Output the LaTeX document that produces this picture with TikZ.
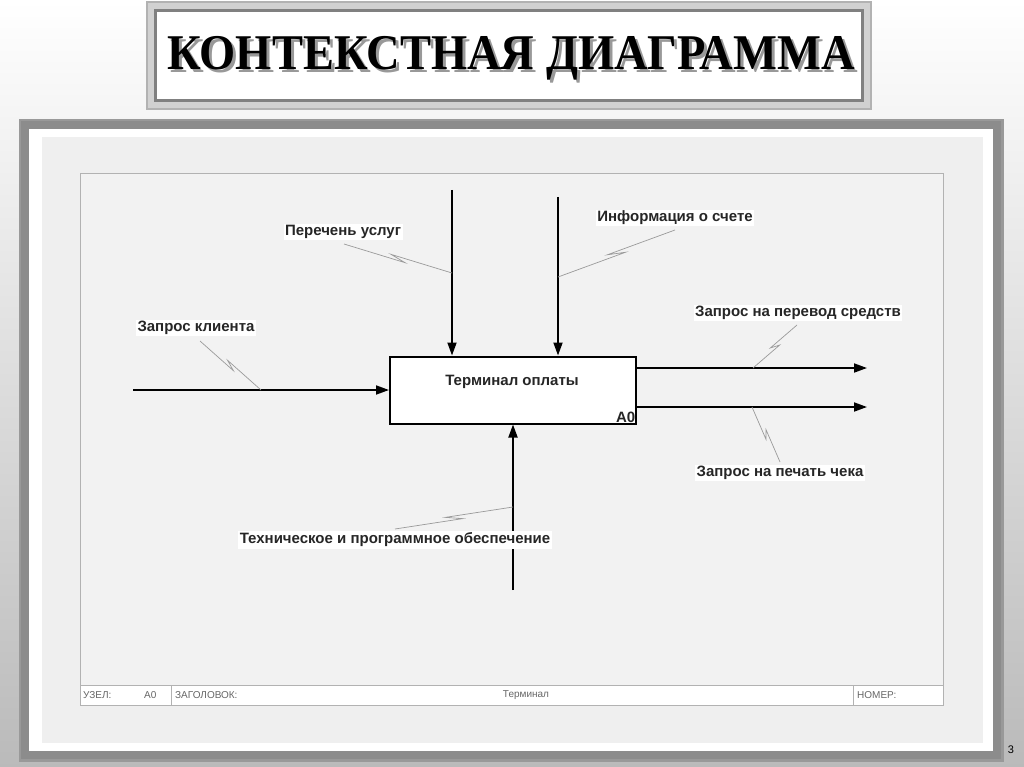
\documentclass[tikz,border=0pt]{standalone}
\usepackage{fontspec}
\setmainfont{Liberation Serif}
\newfontfamily\arialf{Liberation Sans}
\usetikzlibrary{arrows.meta,calc}
\definecolor{panel}{HTML}{EFEFEF}
\definecolor{framegray}{HTML}{8C8C8C}
\definecolor{squigc}{HTML}{9A9A9A}
\tikzset{
  arr/.style={line width=1.8pt,-{Triangle[length=13pt,width=9pt]}},
  lbl/.style={fill=white,inner sep=1.5pt,font=\arialf\bfseries\fontsize{15}{17}\selectfont,text=black!85},
  squig/.style={draw=squigc,line width=0.7pt},
  foot/.style={font=\arialf\fontsize{10}{12}\selectfont,text=black!60,anchor=west,inner sep=0pt}
}
\newcommand{\squigline}[2]{%
  \draw[squig] (#1) -- ($(#1)!0.57!(#2)!2.2pt!-90:(#2)$) -- ($(#1)!0.43!(#2)!2.2pt!90:(#2)$) -- (#2);}
\newcommand{\titletext}{\scalebox{0.93}[1]{\bfseries\fontsize{50}{54}\selectfont КОНТЕКСТНАЯ ДИАГРАММА}}
\begin{document}
\begin{tikzpicture}[x=1pt,y=-1pt]
\useasboundingbox (0,0) rectangle (1024,767);
% background
\shade[top color=white,bottom color=black!27] (0,0) rectangle (1024,767);
% title box
\fill[black!30] (146,1) rectangle (872,110);
\fill[black!18] (148,3) rectangle (870,108);
\fill[black!50] (154,9) rectangle (864,102);
\fill[white] (157,12) rectangle (861,99);
\node[text=black!40] (titlesh) at (514,61) {\titletext};
\node[text=black] (title) at (511,58) {\titletext};
% main frame
\fill[black!40] (19,119) rectangle (1004,762);
\fill[framegray] (21,121) rectangle (1001,759);
\fill[white] (29,129) rectangle (993,751);
\fill[panel] (42,137) rectangle (983,743);
% diagram frame
\draw[black!30,line width=0.8pt,fill=black!5] (80,173) rectangle (943,705);
\draw[black!30,line width=0.8pt,fill=white] (80,685) rectangle (943,705);
\draw[black!30,line width=0.8pt] (171,685) -- (171,705);
\draw[black!30,line width=0.8pt] (853,685) -- (853,705);
\node[foot] (f1) at (83,695) {УЗЕЛ:};
\node[foot] (f2) at (144,695) {A0};
\node[foot] (f3) at (175,695) {ЗАГОЛОВОК:};
\node[foot,anchor=center] (f4) at (526,695) {Терминал};
\node[foot] (f5) at (857,695) {НОМЕР:};
% page number
\node[font=\arialf\fontsize{11}{13}\selectfont] (pg) at (1011,750) {3};
% activity box
\node[draw,line width=2pt,fill=white,minimum width=246pt,minimum height=67pt,inner sep=0pt] (a0) at (513,390) {};
\node[lbl,fill=none] (a0t) at (512,382) {Терминал оплаты};
\node[lbl,fill=none,anchor=south east] (a0n) at (a0.south east) {A0};
% arrows
\coordinate (in1) at (133,390);
\coordinate (c1) at (452,190);
\coordinate (c2) at (558,197);
\coordinate (o1) at (867,368);
\coordinate (o2) at (867,407);
\coordinate (m1) at (513,590);
\draw[arr] (in1) -- (in1 -| a0.west);
\draw[arr] (c1) -- (c1 |- a0.north);
\draw[arr] (c2) -- (c2 |- a0.north);
\draw[arr] (o1 -| a0.east) -- (o1);
\draw[arr] (o2 -| a0.east) -- (o2);
\draw[arr] (m1) -- (m1 |- a0.south);
% labels
\node[lbl] (l1) at (196,328) {Запрос клиента};
\node[lbl] (l2) at (343,232) {Перечень услуг};
\node[lbl] (l3) at (675,218) {Информация о счете};
\node[lbl] (l4) at (798,313) {Запрос на перевод средств};
\node[lbl] (l5) at (780,473) {Запрос на печать чека};
% squiggles
\coordinate (s1a) at (200,341); \coordinate (s1b) at (261,390);
\coordinate (s2a) at (344,244); \coordinate (s2b) at (452,273);
\coordinate (s3a) at (675,230); \coordinate (s3b) at (558,277);
\coordinate (s4a) at (797,325); \coordinate (s4b) at (753,368);
\coordinate (s5a) at (752,407); \coordinate (s5b) at (780,462);
\coordinate (s6a) at (395,529); \coordinate (s6b) at (513,507);
\squigline{s1a}{s1b}
\squigline{s2a}{s2b}
\squigline{s3a}{s3b}
\squigline{s4a}{s4b}
\squigline{s5a}{s5b}
\squigline{s6a}{s6b}
\node[lbl] (l6) at (395,540) {Техническое и программное обеспечение};
\end{tikzpicture}
\end{document}
